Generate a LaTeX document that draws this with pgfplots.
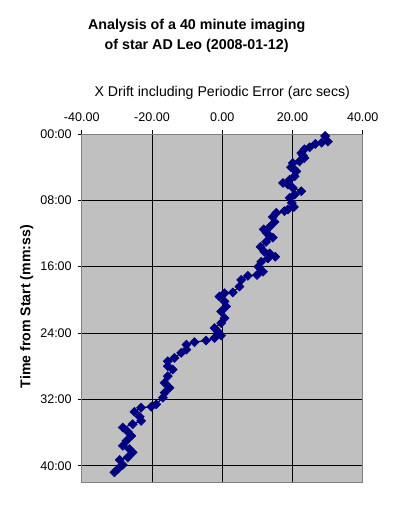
\documentclass[border=0pt]{standalone}
\usepackage{fontspec}
\setmainfont{Liberation Sans}
\usepackage{pgfplots}
\pgfplotsset{compat=1.18}
\definecolor{plotbg}{HTML}{C0C0C0}
\definecolor{navy}{HTML}{000080}
\begin{document}
\fontsize{10}{12}\selectfont
\begin{tikzpicture}
\path[use as bounding box] (0,0) rectangle (296.25pt,-379.5pt);
\node[align=center,font=\fontsize{10.7}{15}\selectfont\bfseries] at (147.5pt,-26.6pt) {Analysis of a 40 minute imaging\\of star AD Leo (2008-01-12)};
\node[font=\fontsize{10.6}{12}\selectfont] at (166.7pt,-70pt) {X Drift including Periodic Error (arc secs)};
\node[font=\fontsize{10.6}{12}\selectfont\bfseries, rotate=90] at (20pt,-230pt) {Time from Start (mm:ss)};
\begin{axis}[
  at={(61.3pt,-100.5pt)}, anchor=north west,
  width=210.75pt, height=261.2pt, scale only axis,
  xmin=-40, xmax=40, ymin=0, ymax=42,
  y dir=reverse,
  xtick={-40,-20,0,20,40},
  xticklabels={-40.00,-20.00,0.00,20.00,40.00},
  ytick={0,8,16,24,32,40},
  yticklabels={00:00,08:00,16:00,24:00,32:00,40:00},
  xtick pos=upper, xticklabel pos=upper,
  ytick pos=lower, yticklabel pos=lower,
  tick align=outside,
  major tick length=3pt,
  tick style={black, line width=0.6pt},
  grid=major,
  major grid style={black, line width=0.6pt},
  axis line style={gray, line width=0.6pt},
  axis background/.style={fill=plotbg},
  ticklabel style={font=\fontsize{9.4}{11}\selectfont},
  xticklabel style={yshift=3pt},
  yticklabel style={xshift=-1pt},
  clip=false,
]
\addplot[navy, line width=0.9pt, mark=square*, mark size=2.4pt,
  mark options={rotate=45, fill=navy, draw=navy, line width=0.4pt}] coordinates {
(29.3,0.24) (30.1,0.92) (28.3,1.05) (26.5,1.2) (24.9,1.6) (23.4,1.84)
(22.5,2.3) (23.0,2.6) (23.4,2.9) (22.0,3.3) (20.1,3.5) (19.6,4.0)
(20.4,4.25) (21.1,4.5) (20.6,5.1) (19.2,5.5) (17.3,5.9) (18.7,6.1)
(20.1,6.5) (22.5,6.9) (20.6,7.3) (19.2,7.7) (19.8,8.3) (20.4,8.8)
(18.7,9.1) (17.7,9.3) (15.4,9.5) (14.4,10.0) (14.9,10.6) (13.5,11.2)
(11.8,11.5) (12.6,11.9) (13.5,12.3) (14.4,12.5) (12.5,13.0) (10.9,13.6)
(12.0,14.2) (13.5,14.4) (15.1,14.8) (13.0,15.0) (11.1,15.4) (10.3,16.0)
(11.6,16.6) (9.9,17.0) (7.3,17.1) (5.4,17.6) (4.9,18.4) (3.0,19.1)
(0.65,19.2) (-0.8,19.6) (0.65,20.2) (1.1,20.8) (-0.3,21.4) (0.65,22.2)
(-0.3,22.8) (-2.2,23.4) (-1.3,23.8) (-0.3,24.3) (-2.2,24.6) (-4.6,24.9)
(-7.9,25.1) (-10.2,25.4) (-10.2,26.0) (-11.7,26.4) (-13.6,27.0) (-15.5,27.4)
(-15.5,28.0) (-14.1,28.4) (-15.5,29.2) (-16.4,30.0) (-15.0,30.6) (-16.4,31.2)
(-16.9,31.8) (-18.8,32.6) (-20.2,32.9) (-23.1,33.0) (-25.0,33.5) (-23.5,34.1)
(-23.1,34.6) (-25.5,35.0) (-28.3,35.4) (-26.9,35.9) (-25.9,36.4) (-27.3,37.0)
(-28.3,37.6) (-26.4,38.0) (-25.5,38.4) (-26.9,39.0) (-29.2,39.3) (-28.3,39.9)
(-29.7,40.4) (-30.7,40.8)
};
\end{axis}
\end{tikzpicture}
\end{document}
